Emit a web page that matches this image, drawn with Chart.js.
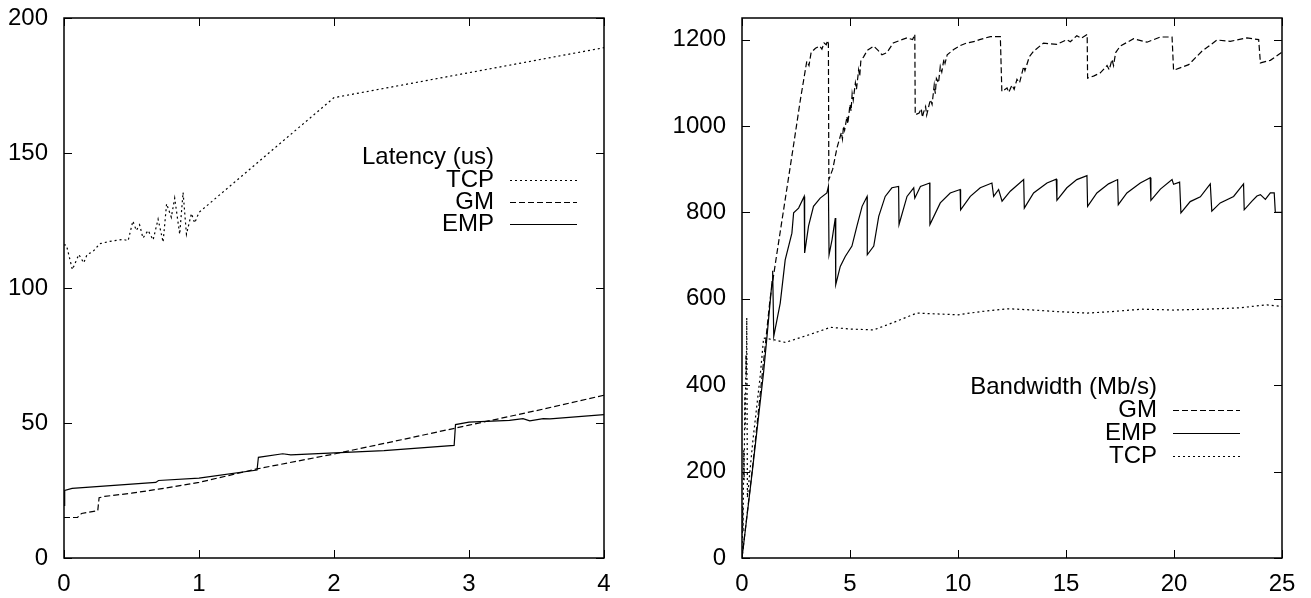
<!DOCTYPE html>
<html>
<head>
<meta charset="utf-8">
<script src="https://cdn.jsdelivr.net/npm/chart.js@4/dist/chart.umd.min.js"></script>
<style>
  html, body { margin: 0; padding: 0; background: #fff; }
  #wrap { position: relative; width: 1311px; height: 598px; }
  canvas { position: absolute; top: 0; }
  #latency { left: 0; }
  #bandwidth { left: 655px; }
</style>
</head>
<body>
<div id="wrap">
  <canvas id="latency" width="655" height="598"></canvas>
  <canvas id="bandwidth" width="656" height="598"></canvas>
</div>
<script>
// ---- latency (us) vs size ----
const latencyTicksX = [0, 1, 2, 3, 4];
const latencyTicksY = [0, 50, 100, 150, 200];

const tcpLatency = [
  [0, 116], [0.018, 115.9], [0.062, 106.8], [0.11, 112.4], [0.146, 109.3], [0.171, 112.4],
  [0.215, 113.5], [0.265, 116.4], [0.34, 117.3], [0.437, 118], [0.475, 117.5], [0.51, 124.8],
  [0.536, 121.3], [0.56, 123.4], [0.585, 118.5], [0.623, 121.3], [0.66, 117.8], [0.697, 125.5],
  [0.734, 117], [0.76, 131.2], [0.795, 126.2], [0.82, 133.3], [0.857, 119.9], [0.882, 135.4],
  [0.907, 119.9], [0.944, 127.6], [0.968, 124.1], [1.0, 128], [2.0, 170.5], [4.0, 189]
];
const gmLatency = [
  [0, 15], [0.1, 15], [0.13, 16.5], [0.25, 17.5], [0.26, 22.3], [0.3, 22.8], [0.5, 24],
  [0.7, 25.5], [1.0, 28], [1.43, 33], [2.0, 38.5], [2.5, 43.8], [3.0, 49.2], [3.5, 54.6], [4.0, 60.3]
];
const empLatency = [
  [0, 19.5], [0.005, 25], [0.06, 25.8], [0.68, 28], [0.7, 28.7], [1.0, 29.6], [1.43, 32.6],
  [1.44, 37.3], [1.62, 38.6], [1.68, 38.2], [2.37, 39.8], [2.89, 41.7], [2.9, 49.4], [3.0, 50.3],
  [3.3, 51], [3.4, 51.6], [3.45, 50.8], [3.55, 51.6], [3.6, 51.5], [4.0, 53.1]
];

// ---- bandwidth (Mb/s) vs size ----
const bandwidthTicksX = [0, 5, 10, 15, 20, 25];
const bandwidthTicksY = [0, 200, 400, 600, 800, 1000, 1200];

const gmBandwidth = [
  [0, 0], [0.5, 215], [1.0, 455], [1.3, 600], [1.6, 700], [2.0, 830], [2.4, 960], [2.7, 1060],
  [2.9, 1120], [3.0, 1150], [3.1, 1140], [3.2, 1170], [3.4, 1180], [3.6, 1185], [3.7, 1178],
  [3.8, 1192], [3.9, 1188], [3.96, 1198], [4.0, 1190], [4.02, 876],
  [4.2, 900], [4.4, 950], [4.6, 985], [4.65, 970], [4.7, 1000], [4.75, 990], [4.86, 1022],
  [4.9, 1005], [5.0, 1050], [5.05, 1035], [5.1, 1075], [5.15, 1060], [5.25, 1100], [5.3, 1085],
  [5.4, 1130], [5.45, 1115], [5.5, 1150], [5.63, 1160], [5.8, 1175], [6.1, 1185], [6.3, 1175],
  [6.48, 1165], [6.71, 1170], [7.0, 1192], [7.3, 1198], [7.64, 1204], [7.9, 1200], [8.0, 1212], [8.02, 1026],
  [8.2, 1030], [8.3, 1040], [8.35, 1020], [8.41, 1032], [8.5, 1045], [8.55, 1025], [8.72, 1061],
  [8.8, 1050], [8.9, 1095], [8.95, 1075], [9.0, 1110], [9.1, 1100], [9.18, 1138], [9.25, 1125],
  [9.35, 1155], [9.4, 1145], [9.5, 1165], [9.8, 1177], [10.1, 1186], [10.4, 1192], [10.8, 1196],
  [11.0, 1200], [11.5, 1207], [11.96, 1207], [12.03, 1080],
  [12.27, 1088], [12.35, 1078], [12.5, 1095], [12.6, 1085], [12.73, 1108], [12.85, 1100],
  [13.04, 1138], [13.1, 1128], [13.3, 1160], [13.5, 1173], [13.96, 1192], [14.3, 1190],
  [14.58, 1189], [15.04, 1200], [15.2, 1195], [15.5, 1209], [15.7, 1203], [15.98, 1212], [16.0, 1111],
  [16.3, 1116], [16.59, 1123], [16.9, 1140], [17.0, 1130], [17.13, 1154], [17.2, 1140], [17.3, 1170],
  [17.51, 1185], [18.13, 1202], [18.75, 1194], [19.37, 1206], [19.91, 1206], [19.98, 1129],
  [20.68, 1142], [21.29, 1173], [21.99, 1199], [22.6, 1196], [23.38, 1204], [23.92, 1200], [24.0, 1146],
  [24.46, 1152], [25.0, 1171]
];
const empBandwidth = [
  [0, 0], [0.5, 210], [1.0, 430], [1.15, 509], [1.39, 640], [1.42, 665], [1.47, 513], [1.77, 590],
  [2.0, 690], [2.31, 752], [2.39, 799], [2.62, 810], [2.88, 837], [2.9, 706], [3.08, 768], [3.31, 814],
  [3.62, 833], [3.93, 845], [4.0, 860], [4.03, 702], [4.17, 737], [4.32, 787], [4.34, 633], [4.55, 675],
  [4.78, 698], [5.09, 722], [5.32, 768], [5.56, 814], [5.79, 837], [5.8, 702], [6.1, 722], [6.33, 791],
  [6.63, 837], [6.94, 857], [7.25, 860], [7.27, 772], [7.64, 837], [7.95, 857], [8.0, 833], [8.26, 860],
  [8.69, 868], [8.7, 772], [9.18, 822], [9.64, 845], [10.1, 853], [10.12, 806], [10.57, 837],
  [11.03, 857], [11.57, 868], [11.65, 837], [11.88, 853], [12.04, 826], [12.42, 849], [13.04, 876],
  [13.07, 810], [13.5, 845], [14.12, 868], [14.55, 877], [14.58, 828], [15.04, 857], [15.5, 876],
  [15.97, 885], [16.0, 814], [16.43, 845], [16.97, 866], [17.39, 876], [17.42, 818], [17.82, 845],
  [18.44, 868], [18.9, 880], [18.93, 828], [19.37, 854], [19.91, 876], [19.98, 865], [20.26, 870],
  [20.32, 799], [20.75, 825], [21.22, 836], [21.68, 866], [21.75, 803], [22.14, 822], [22.76, 837],
  [23.22, 866], [23.25, 806], [23.61, 826], [23.84, 838], [24.0, 841], [24.23, 830], [24.46, 845],
  [24.64, 845], [24.69, 800], [25.0, 800]
];
const tcpBandwidth = [
  [0, 0], [0.03, 120], [0.05, 60], [0.08, 250], [0.1, 180], [0.13, 380], [0.15, 300], [0.18, 470],
  [0.2, 420], [0.22, 556], [0.25, 140], [0.5, 270], [0.84, 420], [1.0, 509], [1.5, 505], [2.0, 499],
  [3.0, 515], [4.1, 534], [5.0, 530], [6.1, 528], [7.0, 545], [8.1, 567], [9.0, 565], [10.0, 563],
  [11.0, 570], [12.3, 577], [13.5, 574], [14.7, 570], [16.0, 567], [17.0, 570], [18.5, 576],
  [20.0, 574], [21.5, 576], [23.0, 579], [24.3, 586], [25.0, 582]
];

Chart.defaults.font.family = '"Liberation Sans", Arial, Helvetica, sans-serif';
Chart.defaults.font.size = 24;
Chart.defaults.color = '#000';

const dotted = [2, 3];
const dashed = [6, 3];

function series(label, pts, dash) {
  return {
    label: label,
    data: pts.map(p => ({ x: p[0], y: p[1] })),
    borderColor: '#000',
    borderWidth: 1.2,
    borderDash: dash,
    pointRadius: 0,
    tension: 0,
    fill: false
  };
}

// box round the plot, inward ticks on all four sides, gnuplot style key
const framePlugin = {
  id: 'frame',
  afterDraw(chart, args, opts) {
    const ctx = chart.ctx;
    const a = chart.chartArea;
    const xs = chart.scales.x, ys = chart.scales.y;
    ctx.save();
    ctx.strokeStyle = '#000';
    ctx.setLineDash([]);
    ctx.lineWidth = 1;
    ctx.beginPath();
    xs.ticks.forEach(t => {
      const px = Math.round(xs.getPixelForValue(t.value)) + 0.5;
      ctx.moveTo(px, a.bottom); ctx.lineTo(px, a.bottom - 8);
      ctx.moveTo(px, a.top); ctx.lineTo(px, a.top + 8);
    });
    ys.ticks.forEach(t => {
      const py = Math.round(ys.getPixelForValue(t.value)) + 0.5;
      ctx.moveTo(a.left, py); ctx.lineTo(a.left + 8, py);
      ctx.moveTo(a.right, py); ctx.lineTo(a.right - 8, py);
    });
    ctx.stroke();
    ctx.lineWidth = 1.5;
    ctx.strokeRect(Math.round(a.left), Math.round(a.top), Math.round(a.right - a.left), Math.round(a.bottom - a.top));

    // key
    ctx.font = '24px "Liberation Sans", Arial, sans-serif';
    ctx.fillStyle = '#000';
    ctx.textAlign = 'right';
    ctx.textBaseline = 'middle';
    ctx.fillText(opts.title, opts.textRight, opts.titleY);
    chart.data.datasets.forEach((ds, i) => {
      const y = opts.rowY[i];
      ctx.fillText(ds.label, opts.textRight, y);
      ctx.lineWidth = 1;
      ctx.setLineDash(ds.borderDash || []);
      ctx.beginPath();
      ctx.moveTo(opts.sampleX0, Math.round(y) + 0.5);
      ctx.lineTo(opts.sampleX1, Math.round(y) + 0.5);
      ctx.stroke();
      ctx.setLineDash([]);
    });
    ctx.restore();
  }
};

function makeChart(id, datasets, ticksX, ticksY, yMax, yAxisWidth, padRight, key) {
  const xMin = ticksX[0], xMax = ticksX[ticksX.length - 1];
  return new Chart(document.getElementById(id), {
    type: 'line',
    data: { datasets: datasets },
    options: {
      responsive: false,
      animation: false,
      devicePixelRatio: 1,
      layout: { padding: { top: 18, right: padRight, left: 0, bottom: 0 } },
      plugins: { legend: { display: false }, tooltip: { enabled: false }, frame: key },
      scales: {
        x: {
          type: 'linear', min: xMin, max: xMax,
          afterBuildTicks: s => { s.ticks = ticksX.map(v => ({ value: v })); },
          afterFit: s => { s.height = 40; s.paddingLeft = 0; s.paddingRight = 0; },
          grid: { display: false, drawTicks: false },
          border: { display: false },
          ticks: { padding: 12, maxRotation: 0, autoSkip: false, callback: v => String(v) }
        },
        y: {
          type: 'linear', min: 0, max: yMax,
          afterBuildTicks: s => { s.ticks = ticksY.map(v => ({ value: v })); },
          afterFit: s => { s.width = yAxisWidth; s.paddingTop = 0; s.paddingBottom = 0; },
          grid: { display: false, drawTicks: false },
          border: { display: false },
          ticks: { padding: 16, autoSkip: false, callback: v => String(v) }
        }
      }
    },
    plugins: [framePlugin]
  });
}

makeChart('latency', [
  series('TCP', tcpLatency, dotted),
  series('GM', gmLatency, dashed),
  series('EMP', empLatency, [])
], latencyTicksX, latencyTicksY, 200, 64, 51, {
  title: 'Latency (us)', titleY: 157, textRight: 494, sampleX0: 510, sampleX1: 577,
  rowY: [180, 202, 224]
});

makeChart('bandwidth', [
  series('GM', gmBandwidth, dashed),
  series('EMP', empBandwidth, []),
  series('TCP', tcpBandwidth, dotted)
], bandwidthTicksX, bandwidthTicksY, 1250, 87, 29, {
  title: 'Bandwidth (Mb/s)', titleY: 387, textRight: 502, sampleX0: 518, sampleX1: 585,
  rowY: [410, 433, 456]
});
</script>
</body>
</html>
